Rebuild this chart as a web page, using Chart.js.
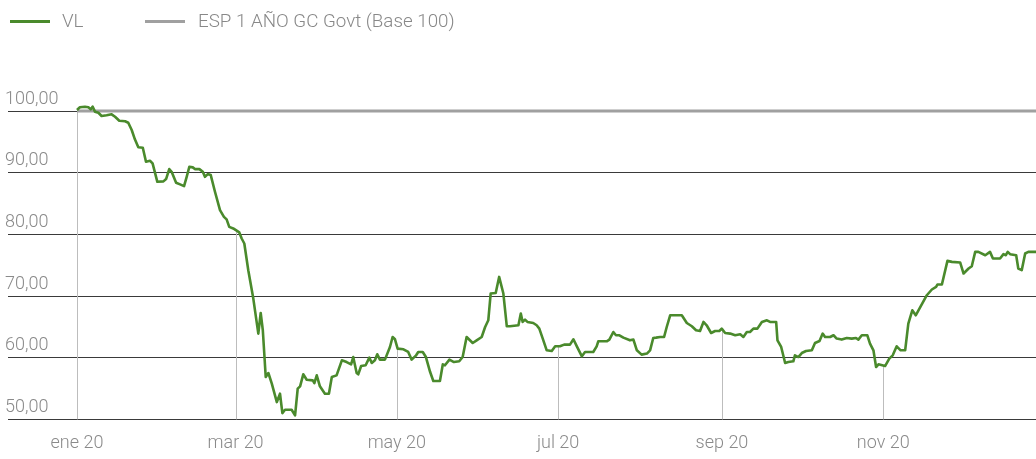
<!DOCTYPE html>
<html>
<head>
<meta charset="utf-8">
<script src="https://cdn.jsdelivr.net/npm/chart.js@4.4.1/dist/chart.umd.min.js"></script>
<style>
  html, body { margin: 0; padding: 0; background: #fff; }
  #wrap { position: relative; width: 1036px; height: 459px; }
  #legend { position: absolute; left: 0; top: 0; width: 1036px; height: 40px; font-family: Roboto, sans-serif; font-weight: 300; font-size: 18.8px; color: #888; }
  .lg-line { position: absolute; top: 20px; width: 40px; height: 3px; }
  .lg-text { position: absolute; top: 10px; white-space: nowrap; line-height: normal; }
</style>
</head>
<body>
<div id="wrap">
  <canvas id="c"></canvas>
  <div id="legend"></div>
</div>
<script>
// ---- data ----
const seriesNames = ['VL', 'ESP 1 AÑO GC Govt (Base 100)'];
// day offsets from 1 Jan 2020
const vlDays = [0,1.1,3.0,4.3,5.2,5.9,6.8,8.1,9.3,11.2,
13.1,14.4,16.0,18.2,19.4,20.7,21.9,23.2,24.9,26.1,
27.6,28.6,30.4,32.7,33.7,34.9,35.8,37.5,39.0,40.5,
41.5,42.5,43.8,44.6,46.3,47.6,48.4,49.5,50.6,52.2,
54.1,55.6,56.6,57.6,59.1,61.4,62.3,63.3,64.8,66.7,
68.6,69.5,70.3,71.4,72.4,73.7,75.6,76.8,77.7,78.7,
81.2,82.5,83.5,84.4,85.6,86.9,89.2,89.8,90.7,91.9,
93.8,95.3,96.4,98.2,100.2,102.0,103.7,104.5,105.8,106.4,
107.5,109.2,110.6,111.5,112.7,113.6,114.6,116.5,118.4,119.4,
120.3,121.3,123.5,125.3,126.6,128.3,129.1,130.8,132.0,133.6,
134.8,137.3,138.4,139.2,140.9,142.6,144.6,145.9,147.4,149.7,
151.2,153.1,154.4,155.6,156.5,158.4,159.7,161.3,162.6,163.8,
167.0,167.9,168.6,169.5,170.4,172.6,173.9,174.9,176.2,177.7,
179.6,180.9,182.7,184.3,186.5,187.8,189.1,191.0,192.2,195.3,
196.6,197.2,200.4,201.4,202.9,203.9,205.2,206.7,209.2,210.5,
211.8,213.6,215.6,216.8,218.0,219.1,220.6,222.1,223.1,224.4,
228.8,230.7,232.6,234.2,235.7,237.0,238.2,239.9,241.4,243.0,
243.9,245.2,247.1,249.0,250.9,252.1,253.4,254.6,255.9,257.4,
259.1,261.0,262.2,264.5,265.0,266.4,267.9,269.1,271.0,271.6,
272.9,274.2,275.8,278.0,279.2,280.9,282.1,283.0,284.9,286.2,
287.4,289.3,291.2,293.1,294.7,295.6,296.9,299.0,300.0,301.3,
302.3,303.2,305.7,307.3,308.6,310.1,311.6,313.3,314.5,316.0,
317.3,321.5,323.4,325.0,325.5,327.2,329.3,331.0,334.1,335.4,
337.3,338.5,339.8,341.0,343.6,345.4,346.5,349.2,350.5,351.4,
352.1,353.0,355.3,356.1,357.4,358.7,359.9,362.8];
const vlValues = [100.16,100.60,100.70,100.60,100.28,100.70,99.89,99.72,99.19,99.30,
99.46,99.07,98.43,98.33,98.10,96.92,95.41,94.11,94.04,91.77,
91.93,91.51,88.52,88.59,88.96,90.58,90.15,88.36,88.10,87.82,
89.33,90.96,90.86,90.58,90.58,90.15,89.33,89.77,89.61,86.90,
83.93,82.84,82.42,81.22,80.96,80.31,79.33,78.52,74.19,69.59,
63.91,67.26,64.45,56.87,57.52,55.80,52.81,54.17,51.02,51.57,
51.57,50.65,54.98,55.36,57.31,56.44,56.33,55.89,57.14,55.36,
54.17,54.17,56.87,57.14,59.58,59.30,58.93,60.11,57.52,57.31,
58.65,58.77,60.02,59.14,59.58,60.55,59.69,59.69,61.74,63.36,
62.99,61.48,61.36,60.93,59.69,60.39,60.93,60.93,60.11,57.68,
56.22,56.22,58.93,58.77,59.69,59.30,59.42,60.11,63.36,62.39,
62.82,63.36,64.98,66.07,70.41,70.50,73.10,70.41,65.10,65.10,
65.26,67.16,65.80,66.18,65.80,65.63,65.26,64.72,63.10,61.20,
61.09,61.85,61.85,62.13,62.13,62.99,61.85,60.23,60.93,60.93,
61.85,62.66,62.66,62.94,64.17,63.64,63.64,63.26,62.82,62.94,
61.20,60.50,60.67,61.20,63.20,63.26,63.36,63.36,64.98,66.88,
66.88,65.63,65.10,64.45,64.33,65.80,65.26,64.01,64.33,64.33,
64.72,64.01,63.91,63.64,63.80,63.36,64.17,64.17,64.72,64.72,
65.80,66.07,65.80,65.80,62.82,61.74,59.14,59.30,59.42,60.39,
60.11,60.76,61.09,61.20,62.39,62.71,63.91,63.36,63.36,63.64,
63.10,62.94,63.20,63.10,63.20,62.94,63.64,63.64,62.29,61.20,
58.49,58.93,58.65,59.85,60.39,61.85,61.20,61.20,65.54,67.69,
66.88,70.13,71.06,71.48,71.87,71.87,75.70,75.54,75.44,73.65,
74.46,74.84,77.16,77.16,76.62,77.16,76.09,76.09,76.79,76.62,
77.16,76.79,76.62,74.46,74.19,76.90,77.16,77.16];
const espDays = [0, 60, 121, 182, 244, 305, 362.8];
const espValues = [100, 100, 100, 100, 100, 100, 100];
const tickDays = [0, 60, 121, 182, 244, 305];
const tickLabels = ['ene 20', 'mar 20', 'may 20', 'jul 20', 'sep 20', 'nov 20'];
const yTicks = [50, 60, 70, 80, 90, 100];

// ---- styles ----
const GREEN = '#4a8a2c';
const GREY = '#a0a0a0';
const TEXT = '#8a8a8a';
const FONT = { family: 'Roboto, sans-serif', size: 18, weight: '300' };

function valueAt(day) {
  for (let i = 0; i < vlDays.length - 1; i++) {
    if (day >= vlDays[i] && day <= vlDays[i + 1]) {
      const t = (day - vlDays[i]) / (vlDays[i + 1] - vlDays[i]);
      return vlValues[i] + t * (vlValues[i + 1] - vlValues[i]);
    }
  }
  return vlValues[0];
}

const dropLines = {
  id: 'dropLines',
  beforeDatasetsDraw(chart) {
    const { ctx, chartArea, scales } = chart;
    ctx.save();
    ctx.strokeStyle = '#bdbdbd';
    ctx.lineWidth = 1;
    tickDays.forEach(d => {
      const x = Math.round(scales.x.getPixelForValue(d)) + 0.5;
      const y = scales.y.getPixelForValue(valueAt(d));
      ctx.beginPath();
      ctx.moveTo(x, chartArea.bottom);
      ctx.lineTo(x, y);
      ctx.stroke();
    });
    ctx.restore();
  }
};

const chart = new Chart(document.getElementById('c'), {
  type: 'line',
  data: {
    datasets: [
      {
        label: seriesNames[0],
        data: vlDays.map((d, i) => ({ x: d, y: vlValues[i] })),
        borderColor: GREEN,
        backgroundColor: GREEN,
        borderWidth: 2.6,
        pointRadius: 0,
        tension: 0,
        borderJoinStyle: 'round',
        clip: false
      },
      {
        label: seriesNames[1],
        data: espDays.map((d, i) => ({ x: d, y: espValues[i] })),
        borderColor: GREY,
        backgroundColor: GREY,
        borderWidth: 3,
        pointRadius: 0,
        tension: 0,
        clip: false
      }
    ]
  },
  options: {
    responsive: true,
    maintainAspectRatio: false,
    animation: false,
    layout: { padding: { top: 111, left: 8, right: 0, bottom: 0 } },
    plugins: { legend: { display: false }, tooltip: { enabled: false } },
    scales: {
      x: {
        type: 'linear',
        min: -26.1,
        max: 362.8,
        grid: { display: false },
        border: { display: false },
        afterBuildTicks(axis) { axis.ticks = tickDays.map(v => ({ value: v })); },
        ticks: {
          autoSkip: false,
          maxRotation: 0,
          padding: 5,
          color: TEXT,
          font: FONT,
          callback: (v, i) => tickLabels[i]
        }
      },
      y: {
        min: 50,
        max: 100,
        afterBuildTicks(axis) { axis.ticks = yTicks.map(v => ({ value: v })); },
        grid: { color: '#3a3a3a', lineWidth: 1, drawTicks: false },
        border: { display: false },
        ticks: {
          mirror: true,
          padding: -1,
          labelOffset: -12,
          color: TEXT,
          font: FONT,
          callback: v => v.toFixed(2).replace('.', ',')
        }
      }
    }
  },
  plugins: [dropLines]
});

// HTML legend built from the chart datasets
const legendPos = [{ line: 10, text: 62 }, { line: 145, text: 198 }];
const lg = document.getElementById('legend');
chart.data.datasets.forEach((ds, i) => {
  const l = document.createElement('div');
  l.className = 'lg-line';
  l.style.left = legendPos[i].line + 'px';
  l.style.background = ds.borderColor;
  lg.appendChild(l);
  const t = document.createElement('div');
  t.className = 'lg-text';
  t.style.left = legendPos[i].text + 'px';
  t.textContent = ds.label;
  lg.appendChild(t);
});
</script>
</body>
</html>
